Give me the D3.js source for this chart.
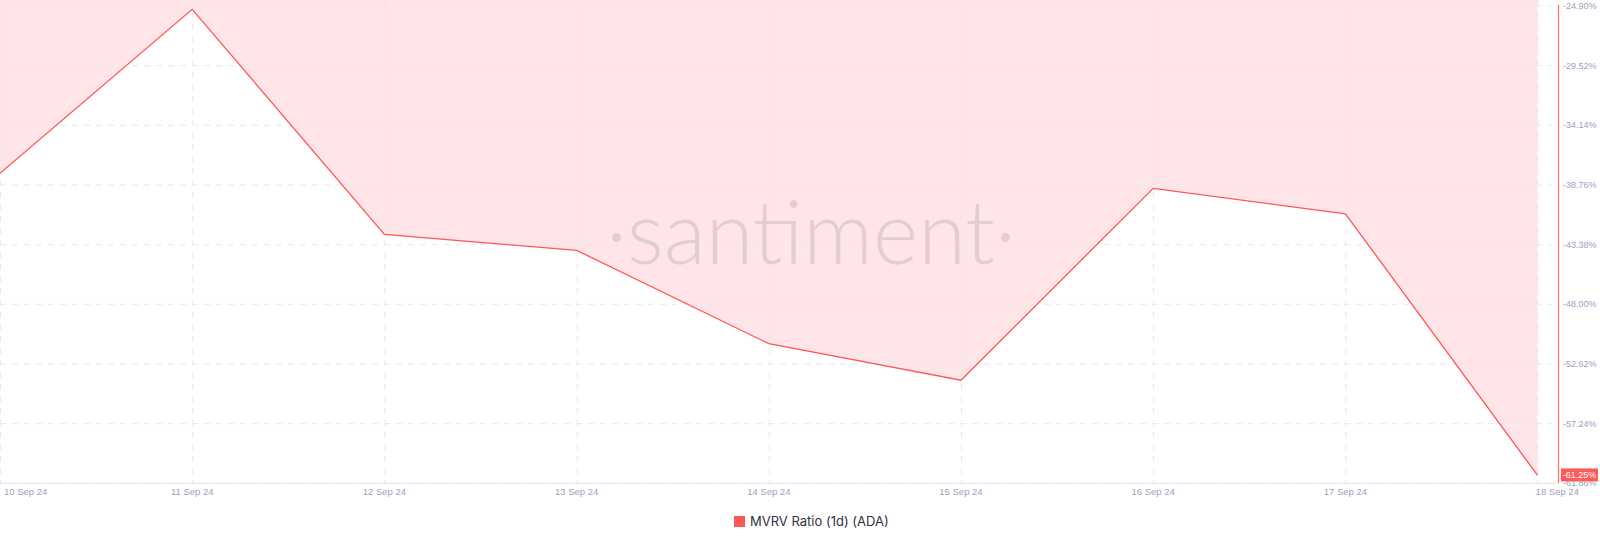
<!DOCTYPE html>
<html>
<head>
<meta charset="utf-8">
<script src="https://cdn.jsdelivr.net/npm/d3@7"></script>
<style>
html,body{margin:0;padding:0;background:#fff;}
svg{display:block;}
</style>
</head>
<body>
<svg id="chart" width="1600" height="542"></svg>
<script>
const dates = ["2024-09-10","2024-09-11","2024-09-12","2024-09-13","2024-09-14","2024-09-15","2024-09-16","2024-09-17","2024-09-18"];
const dateLabels = ["10 Sep 24","11 Sep 24","12 Sep 24","13 Sep 24","14 Sep 24","15 Sep 24","16 Sep 24","17 Sep 24","18 Sep 24"];
const mvrv = [-37.86, -25.16, -42.58, -43.82, -51.05, -53.88, -39.02, -40.99, -61.25];
const yTicks = [-24.90, -29.52, -34.14, -38.76, -43.38, -48.00, -52.62, -57.24, -61.86];
const seriesName = "MVRV Ratio (1d) (ADA)";
const lastLabel = "-61.25%";

const svg = d3.select("#chart");
const parse = d3.timeParse("%Y-%m-%d");
const data = dates.map((d,i)=>({date: parse(d), v: mvrv[i], label: dateLabels[i]}));

const x = d3.scaleTime().domain([data[0].date, data[data.length-1].date]).range([0, 1537.6]);
const y = d3.scaleLinear().domain([-61.86, -24.90]).range([483.3, 6]);

const red = "#ff5656";
const gridColor = "#e7e9f1";
const tickColor = "#9aa2c0";
const tickFont = "'Liberation Sans', Arial, sans-serif";

// fill area above the line
const area = d3.area().x(d=>x(d.date)).y0(0).y1(d=>y(d.v));
svg.append("path").datum(data).attr("d", area).attr("fill", "#ffe5e7");

// horizontal grid
svg.append("g").selectAll("line").data(yTicks).join("line")
  .attr("x1", 0).attr("x2", 1553)
  .attr("y1", d=>y(d)).attr("y2", d=>y(d))
  .attr("stroke", gridColor).attr("stroke-width", 1).attr("stroke-dasharray", "6,6");

// vertical grid
svg.append("g").selectAll("line").data(data).join("line")
  .attr("x1", d=>x(d.date)+0.5).attr("x2", d=>x(d.date)+0.5)
  .attr("y1", 0).attr("y2", 483)
  .attr("stroke", gridColor).attr("stroke-width", 1).attr("stroke-dasharray", "6,6");

// watermark
svg.append("text")
  .attr("x", 811).attr("y", 264)
  .attr("text-anchor", "middle")
  .attr("font-family", "Lato, 'Open Sans', sans-serif")
  .attr("font-weight", 300)
  .attr("font-size", 88)
  .attr("fill", "#c9b9c4").attr("fill-opacity", 0.55)
  .attr("textLength", 410).attr("lengthAdjust", "spacingAndGlyphs")
  .text("·santiment·");

// x axis baseline
svg.append("line").attr("x1", 0).attr("x2", 1558).attr("y1", 483.5).attr("y2", 483.5)
  .attr("stroke", "#e3e5ee").attr("stroke-width", 1);

// x labels
svg.append("g").selectAll("text").data(data).join("text")
  .attr("x", (d,i)=> i===0 ? x(d.date)+4 : (i===data.length-1 ? x(d.date)-2 : x(d.date)))
  .attr("y", 495)
  .attr("text-anchor", (d,i)=> i===0 || i===data.length-1 ? "start" : "middle")
  .attr("font-family", tickFont)
  .attr("font-size", 9.5)
  .attr("fill", tickColor)
  .text(d=>d.label);

// line
const line = d3.line().x(d=>x(d.date)).y(d=>y(d.v));
svg.append("path").datum(data).attr("d", line)
  .attr("fill", "none").attr("stroke", red).attr("stroke-width", 1.3);

// right axis line
svg.append("line").attr("x1", 1558.5).attr("x2", 1558.5).attr("y1", 5).attr("y2", 483)
  .attr("stroke", "#ff6b6b").attr("stroke-width", 1.2);

// y labels
svg.append("g").selectAll("text").data(yTicks).join("text")
  .attr("x", 1563).attr("y", d=>y(d)).attr("dy", "0.35em")
  .attr("font-family", tickFont)
  .attr("font-size", 9)
  .attr("fill", tickColor)
  .text(d=>d.toFixed(2)+"%");

// last value badge
const lastY = y(mvrv[mvrv.length-1]);
svg.append("rect").attr("x", 1561).attr("y", lastY-7).attr("width", 37).attr("height", 13)
  .attr("fill", "#ff5a5a");
svg.append("text").attr("x", 1579.5).attr("y", lastY-0.5).attr("dy", "0.35em")
  .attr("text-anchor", "middle")
  .attr("font-family", tickFont)
  .attr("font-size", 9).attr("fill", "#fff")
  .text(lastLabel);

// legend
const lg = svg.append("g");
lg.append("rect").attr("x", 734).attr("y", 516).attr("width", 11).attr("height", 11).attr("fill", red);
lg.append("text").attr("x", 750).attr("y", 525.5)
  .attr("font-family", "Inter, 'Open Sans', sans-serif")
  .attr("font-size", 13).attr("fill", "#2f3242")
  .text(seriesName);
</script>
</body>
</html>
